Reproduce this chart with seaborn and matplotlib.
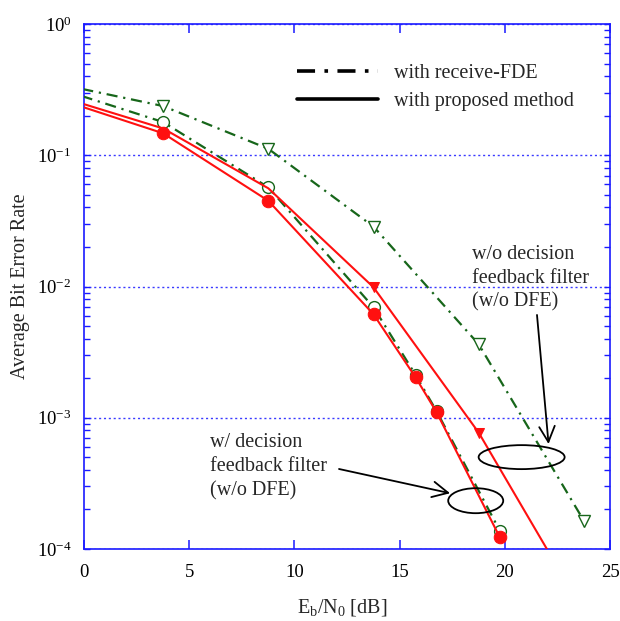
import numpy as np
import pandas as pd
import matplotlib
matplotlib.use("Agg")
import matplotlib.pyplot as plt
from matplotlib.lines import Line2D
from matplotlib.patches import Ellipse
from matplotlib.ticker import LogLocator, FixedLocator, NullFormatter, FuncFormatter
import seaborn as sns

# BER curves (Eb/N0 in dB, average bit error rate)
ebn0_fde_nodfe = [-1.24, 3.76, 8.76, 13.76, 18.76, 23.76]
ber_fde_nodfe = [0.35, 0.237, 0.112, 0.0286, 3.63e-3, 1.64e-4]

ebn0_fde_dfe = [-1.24, 3.76, 8.76, 13.76, 15.76, 16.76, 19.76]
ber_fde_dfe = [0.323, 0.179, 0.057, 6.94e-3, 2.12e-3, 1.12e-3, 1.38e-4]

ebn0_prop_nodfe = [-1.24, 3.76, 8.76, 13.76, 18.76, 23.76]
ber_prop_nodfe = [0.282, 0.16, 0.056, 9.86e-3, 7.7e-4, 3.3e-5]

ebn0_prop_dfe = [-1.24, 3.76, 8.76, 13.76, 15.76, 16.76, 19.76]
ber_prop_dfe = [0.269, 0.147, 0.045, 6.14e-3, 2.03e-3, 1.1e-3, 1.23e-4]

x_ticks = [0, 5, 10, 15, 20, 25]
y_ticks = [1e-4, 1e-3, 1e-2, 1e-1, 1e0]

legend_labels = ["with receive-FDE", "with proposed method"]

sns.set_theme(style="white")
plt.rcParams["font.family"] = ["Liberation Serif", "DejaVu Serif"]
plt.rcParams["mathtext.fontset"] = "custom"
plt.rcParams["mathtext.rm"] = "Liberation Serif"
plt.rcParams["mathtext.it"] = "Liberation Serif:italic"
plt.rcParams["mathtext.bf"] = "Liberation Serif:bold"

GREEN = "#17661a"
RED = "#ff1010"
BLUE = "#1a1aff"
DASHDOT = (0, (5, 2.6, 1.0, 2.6))

fig = plt.figure(figsize=(6.2, 6.21), dpi=100)
ax = fig.add_axes([84 / 620, 72 / 621, 526 / 620, 525 / 621])

def frame(x, y):
    return pd.DataFrame({"ebn0": x, "ber": y})

# receive-FDE, w/o DFE
sns.lineplot(data=frame(ebn0_fde_nodfe, ber_fde_nodfe), x="ebn0", y="ber", ax=ax,
             estimator=None, sort=False, color=GREEN, lw=1.6, linestyle=DASHDOT,
             marker="v", markersize=8, markerfacecolor="white",
             markeredgecolor=GREEN, markeredgewidth=1.0, zorder=3)
# receive-FDE, w/ DFE
sns.lineplot(data=frame(ebn0_fde_dfe, ber_fde_dfe), x="ebn0", y="ber", ax=ax,
             estimator=None, sort=False, color=GREEN, lw=1.6, linestyle=DASHDOT,
             marker="o", markersize=8.5, markerfacecolor="white",
             markeredgecolor=GREEN, markeredgewidth=1.0, zorder=3)
# proposed, w/o DFE
sns.lineplot(data=frame(ebn0_prop_nodfe, ber_prop_nodfe), x="ebn0", y="ber", ax=ax,
             estimator=None, sort=False, color=RED, lw=1.5, linestyle="-",
             marker="v", markersize=7, markerfacecolor=RED,
             markeredgecolor=RED, markevery=[3, 4], zorder=4)
# proposed, w/ DFE
sns.lineplot(data=frame(ebn0_prop_dfe, ber_prop_dfe), x="ebn0", y="ber", ax=ax,
             estimator=None, sort=False, color=RED, lw=1.5, linestyle="-",
             marker="o", markersize=9, markerfacecolor=RED,
             markeredgecolor=RED, zorder=4)

ax.set_yscale("log")
ax.set_xlim(0, 25)
ax.set_ylim(1e-4, 1)

ax.xaxis.set_major_locator(FixedLocator(x_ticks))
ax.yaxis.set_major_locator(FixedLocator(y_ticks))
ax.yaxis.set_minor_locator(LogLocator(base=10, subs=np.arange(2, 10), numticks=20))
ax.yaxis.set_minor_formatter(NullFormatter())
ax.yaxis.set_major_formatter(FuncFormatter(lambda v, p: r"$10^{%d}$" % int(round(np.log10(v)))))

ax.tick_params(axis="x", which="major", direction="in", top=True, bottom=True,
               length=6.5, width=1.1, color=BLUE, labelsize=13.5, pad=11, labelcolor="black")
ax.tick_params(axis="y", which="both", direction="in", left=True, right=True,
               length=4.3, width=1.0, color=BLUE, labelsize=13.5, pad=9, labelcolor="black")

for s in ax.spines.values():
    s.set_color(BLUE)
    s.set_linewidth(1.2)

ax.yaxis.grid(True, which="major", color="#3a3aff", linestyle=(0, (1.5, 2.0)), lw=1.0)
ax.xaxis.grid(False)

ax.set_xlabel(r"E$_\mathregular{b}$/N$_\mathregular{0}$ [dB]", fontsize=14.5)
ax.set_ylabel("Average Bit Error Rate", fontsize=14.5)
ax.yaxis.set_label_coords(-0.103, 0.5)
ax.xaxis.set_label_coords(0.49, -0.091)

# legend for line styles
handles = [Line2D([], [], color="black", lw=2.6, linestyle=DASHDOT),
           Line2D([], [], color="black", lw=2.6, linestyle="-")]
ax.legend(handles, legend_labels, loc="upper left", bbox_to_anchor=(0.405, 0.924),
          frameon=False, fontsize=14.5, handlelength=4.0, handletextpad=0.8,
          labelspacing=0.45, borderpad=0, borderaxespad=0)

# annotations
ax.text(0.7376, 0.515, "w/o decision\nfeedback filter\n(w/o DFE)", transform=ax.transAxes,
        fontsize=14.5, ha="left", va="center", linespacing=1.32)
ax.text(0.2395, 0.1568, "w/ decision\nfeedback filter\n(w/o DFE)", transform=ax.transAxes,
        fontsize=14.5, ha="left", va="center", linespacing=1.37)

ax.add_patch(Ellipse((0.832, 0.175), 0.1635, 0.0457, transform=ax.transAxes,
                     fill=False, edgecolor="black", lw=1.3, zorder=5))
ax.add_patch(Ellipse((0.7447, 0.092), 0.1046, 0.0476, transform=ax.transAxes,
                     fill=False, edgecolor="black", lw=1.3, zorder=5))

arrow = dict(arrowstyle="->", color="black", lw=1.3, mutation_scale=28, shrinkA=0, shrinkB=0)
ax.annotate("", xy=(22.08, 6.31e-4), xytext=(21.53, 6.07e-3), arrowprops=arrow, zorder=5)
ax.annotate("", xy=(17.40, 2.66e-4), xytext=(12.12, 4.07e-4), arrowprops=arrow, zorder=5)

fig.savefig("out.png", dpi=100)
